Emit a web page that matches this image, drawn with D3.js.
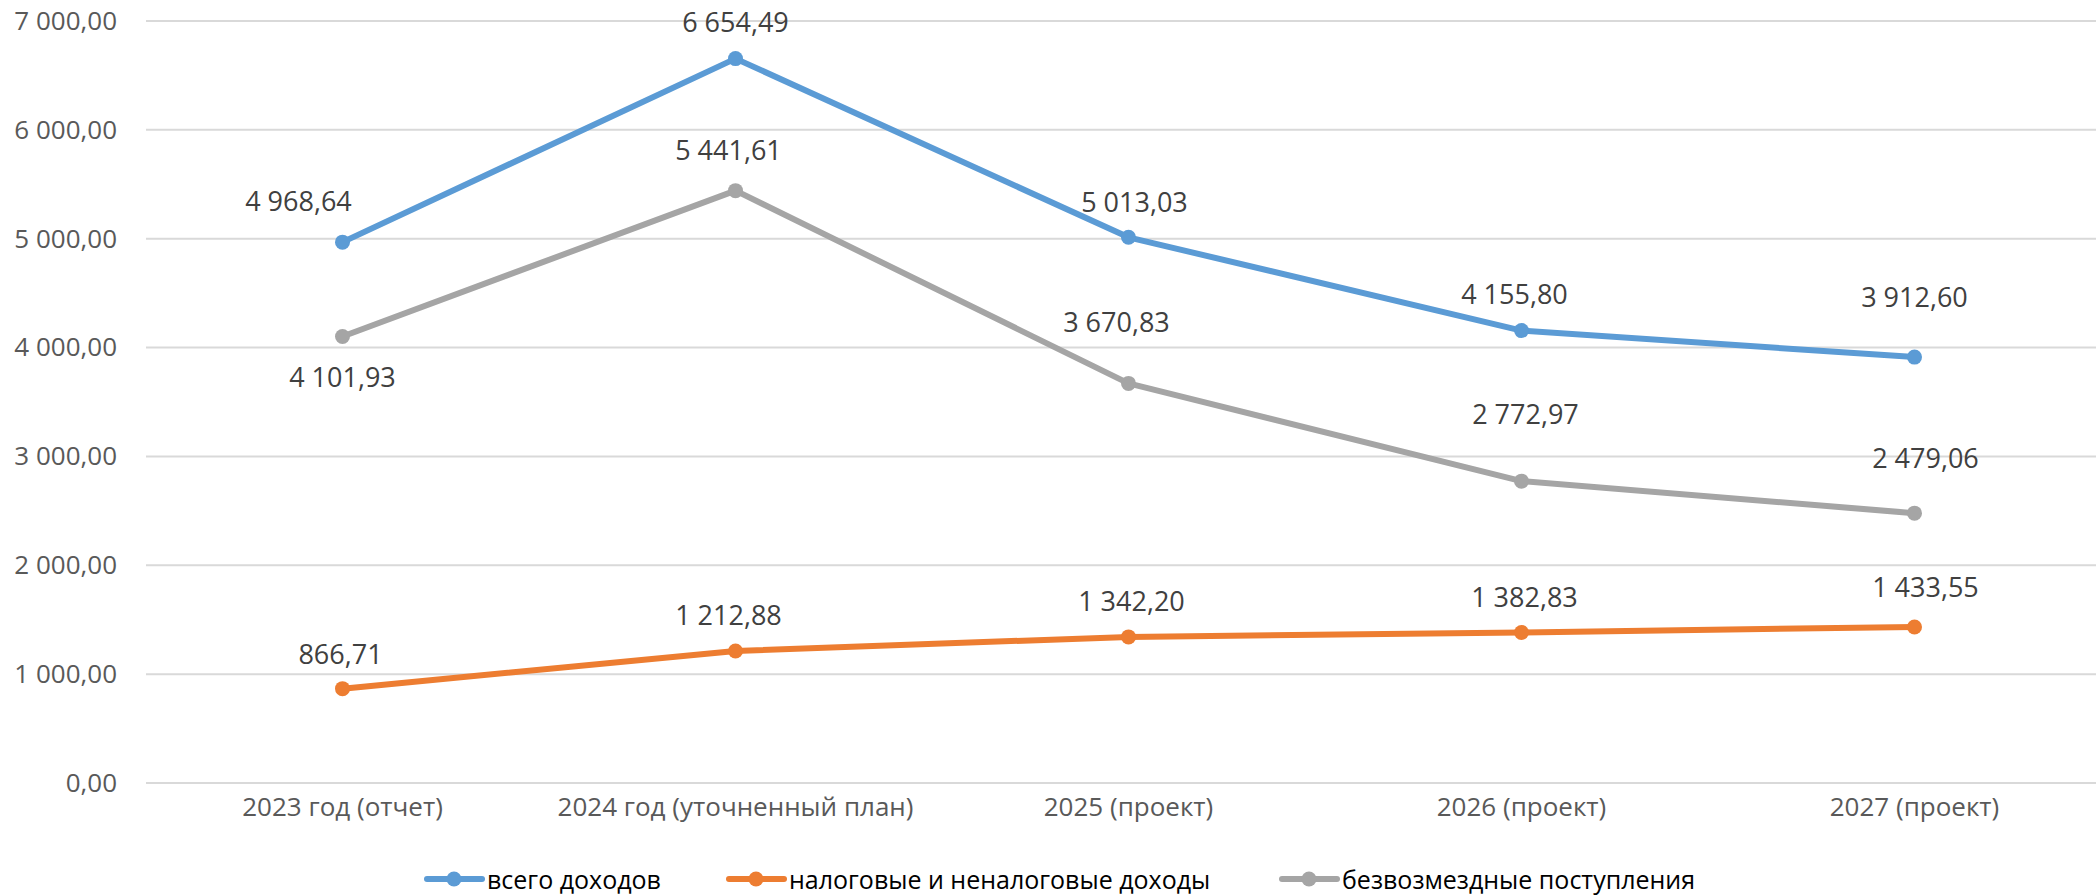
<!DOCTYPE html>
<html lang="ru">
<head>
<meta charset="UTF-8">
<title>Доходы</title>
<script src="https://cdn.jsdelivr.net/npm/d3@7"></script>
<style>
  html, body { margin: 0; padding: 0; background: #fff; overflow: hidden; }
  text { font-family: "Open Sans", "Noto Sans", sans-serif; }
</style>
</head>
<body>
<svg id="chart" width="2096" height="896"></svg>
<script>
// data
var categories = ['2023 год (отчет)', '2024 год (уточненный план)', '2025 (проект)', '2026 (проект)', '2027 (проект)'];
var totalIncome = [4968.64, 6654.49, 5013.03, 4155.80, 3912.60];
var taxIncome = [866.71, 1212.88, 1342.20, 1382.83, 1433.55];
var grantIncome = [4101.93, 5441.61, 3670.83, 2772.97, 2479.06];
var yTicks = [0, 1000, 2000, 3000, 4000, 5000, 6000, 7000];
var seriesNames = ['всего доходов', 'налоговые и неналоговые доходы', 'безвозмездные поступления'];

// label nudges (layout only), [dx, dy] per point
var labelShift = [
    [[-44, -42], [0, -37], [6, -36], [-7, -37], [0, -61]],
    [[-2, -35], [-7, -36], [3, -36], [3, -36], [11, -40]],
    [[0, 40], [-7, -41], [-12, -62], [4, -68], [11, -56]]
];

var colors = ['#5B9BD5', '#ED7D31', '#A5A5A5'];

var svg = d3.select('#chart');

var x = d3.scaleBand().domain(categories).range([146, 2111]).padding(0);
var y = d3.scaleLinear().domain([0, 7000]).range([783, 21]);

var fmt = function(v) {
    var s = d3.format(',.2f')(v);
    return s.replace(/,/g, ' ').replace('.', ',');
};

// gridlines
svg.append('g').selectAll('line').data(yTicks).enter().append('line')
    .attr('x1', 146).attr('x2', 2096)
    .attr('y1', function(d) { return y(d); })
    .attr('y2', function(d) { return y(d); })
    .attr('stroke', '#D9D9D9').attr('stroke-width', 2);

// y labels
var yAxis = d3.axisLeft(y).tickValues(yTicks).tickSize(0).tickPadding(0).tickFormat(fmt);
var gy = svg.append('g').attr('transform', 'translate(117,0)').call(yAxis);
gy.select('.domain').remove();
gy.selectAll('text').attr('font-size', 26).attr('fill', '#595959')
    .attr('font-family', '"Open Sans", sans-serif');

// x labels
var xAxis = d3.axisBottom(x).tickSize(0).tickPadding(0);
var gx = svg.append('g').attr('transform', 'translate(0,806)').call(xAxis);
gx.select('.domain').remove();
gx.selectAll('text').attr('font-size', 26).attr('fill', '#595959')
    .attr('font-family', '"Open Sans", sans-serif').attr('dy', '0.4em');

var cx = function(i) { return x(categories[i]) + x.bandwidth() / 2; };

var allSeries = [totalIncome, taxIncome, grantIncome];
var line = d3.line().x(function(d, i) { return cx(i); }).y(function(d) { return y(d); });

allSeries.forEach(function(vals, s) {
    var g = svg.append('g');
    g.append('path').datum(vals).attr('d', line)
        .attr('fill', 'none').attr('stroke', colors[s]).attr('stroke-width', 6)
        .attr('stroke-linejoin', 'round').attr('stroke-linecap', 'round');
    g.selectAll('circle').data(vals).enter().append('circle')
        .attr('cx', function(d, i) { return cx(i); })
        .attr('cy', function(d) { return y(d); })
        .attr('r', 7.5).attr('fill', colors[s]);
    g.selectAll('text').data(vals).enter().append('text')
        .attr('x', function(d, i) { return cx(i) + labelShift[s][i][0]; })
        .attr('y', function(d, i) { return y(d) + labelShift[s][i][1]; })
        .attr('text-anchor', 'middle').attr('dominant-baseline', 'central')
        .attr('font-size', 27).attr('fill', '#404040')
        .text(fmt);
});

// legend
var legendX = [427, 729, 1282];
var lg = svg.append('g').selectAll('g').data(seriesNames).enter().append('g')
    .attr('transform', function(d, i) { return 'translate(' + legendX[i] + ',879)'; });
lg.append('line').attr('x1', 0).attr('x2', 55).attr('y1', 0).attr('y2', 0)
    .attr('stroke', function(d, i) { return colors[i]; }).attr('stroke-width', 6)
    .attr('stroke-linecap', 'round');
lg.append('circle').attr('cx', 27).attr('cy', 0).attr('r', 7.5)
    .attr('fill', function(d, i) { return colors[i]; });
lg.append('text').attr('x', 60).attr('y', 0).attr('dominant-baseline', 'central')
    .attr('font-size', 25).attr('fill', '#000').text(function(d) { return d; });
</script>
</body>
</html>
